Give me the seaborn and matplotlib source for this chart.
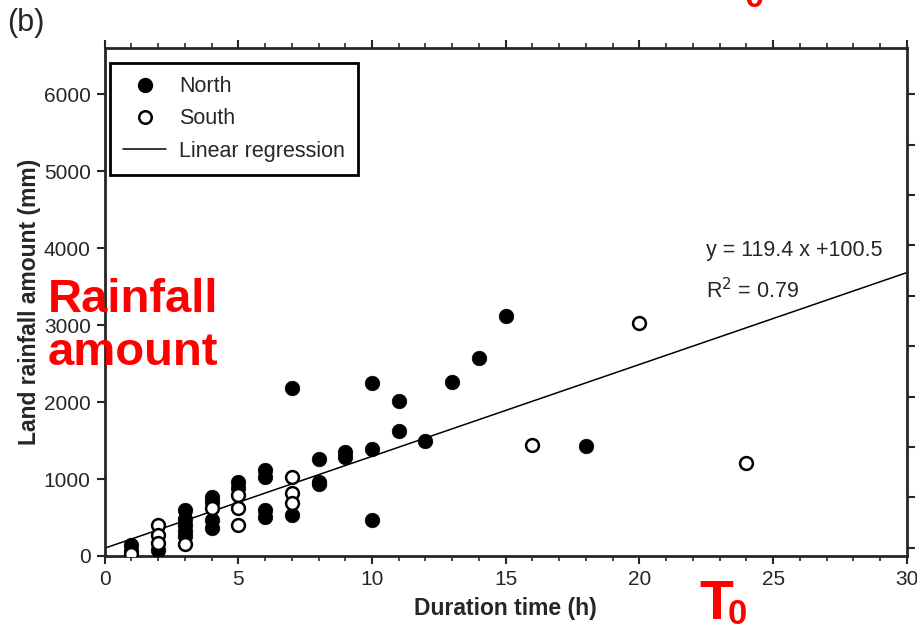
import matplotlib
matplotlib.use("Agg")
import matplotlib.pyplot as plt
import seaborn as sns
import numpy as np
import pandas as pd
from matplotlib.ticker import MultipleLocator, NullLocator, FuncFormatter

# duration (h) and land rainfall amount (mm)
north_x = [1, 1, 2, 3, 3, 3, 3, 3, 4, 4, 4, 4, 5, 5, 6, 6, 6, 6, 7, 7,
           8, 8, 8, 9, 9, 10, 10, 10, 11, 11, 12, 13, 14, 15, 18]
north_y = [140, 70, 80, 600, 480, 400, 330, 260, 770, 705, 468, 364, 965, 880,
           1117, 1030, 597, 511, 2186, 532, 1256, 965, 930, 1355, 1290,
           2242, 1385, 468, 2013, 1627, 1498, 2255, 2578, 3120, 1429]
south_x = [1, 2, 2, 2, 3, 4, 5, 5, 5, 7, 7, 7, 16, 20, 24]
south_y = [30, 400, 270, 170, 150, 623, 790, 623, 403, 1030, 818, 688,
           1442, 3022, 1204]

slope = 119.4
intercept = 100.5
r2 = 0.79

sns.set_style("ticks")
plt.rcParams['font.family'] = ['Liberation Sans', 'DejaVu Sans']

north = pd.DataFrame({'x': north_x, 'y': north_y})
south = pd.DataFrame({'x': south_x, 'y': south_y})
line_x = np.array([0, 30])
reg = pd.DataFrame({'x': line_x, 'y': slope * line_x + intercept})

fig = plt.figure(figsize=(9.17, 6.24), dpi=100)
pos = [0.114, 0.109, 0.875, 0.814]

# overlay axes that only carries the unlabelled right-hand tick marks
rax = fig.add_axes(pos, frameon=False)
rax.set_ylim(0, 6600)
rax.xaxis.set_major_locator(NullLocator())
rax.yaxis.tick_right()
rax.yaxis.set_major_locator(MultipleLocator(655, offset=6000 % 655))
rax.tick_params(axis='y', direction='out', length=6, width=1.5, labelright=False)
rax.tick_params(axis='x', bottom=False, labelbottom=False)

ax = fig.add_axes(pos)
ax.patch.set_alpha(0)

sns.lineplot(data=reg, x='x', y='y', color='black', linewidth=1.1, ax=ax, zorder=2)
sns.scatterplot(data=north, x='x', y='y', color='black', edgecolor='black',
                s=110, linewidth=0.5, ax=ax, zorder=3)
sns.scatterplot(data=south, x='x', y='y', color='white', edgecolor='black',
                s=85, linewidth=1.8, ax=ax, zorder=4)

ax.set_xlim(0, 30)
ax.set_ylim(0, 6600)
for sp in ax.spines.values():
    sp.set_linewidth(2)
    sp.set_visible(True)

# a tick every hour, labelled every 5 h
ax.xaxis.set_major_locator(MultipleLocator(1))
ax.xaxis.set_major_formatter(FuncFormatter(lambda v, p: '%d' % v if round(v) % 5 == 0 else ''))
ax.yaxis.set_major_locator(MultipleLocator(1000))
ax.tick_params(axis='both', which='major', direction='out', length=6, width=1.5,
               labelsize=15, pad=4)
ax.tick_params(axis='x', top=True, bottom=True)
ax.tick_params(axis='y', left=True, right=False)

ax.set_xlabel('Duration time (h)', fontsize=16.5, fontweight='bold', labelpad=6)
ax.set_ylabel('Land rainfall amount (mm)', fontsize=16.5, fontweight='bold', labelpad=2)

ax.text(22.5, 3970, 'y = 119.4 x +100.5', fontsize=15.5, va='center')
ax.text(22.5, 3450, r'R$^2$ = %.2f' % r2, fontsize=15.5, va='center')

handles = [
    plt.Line2D([], [], marker='o', color='black', linestyle='none', markersize=10),
    plt.Line2D([], [], marker='o', markerfacecolor='white', markeredgecolor='black',
               markeredgewidth=1.8, linestyle='none', markersize=9),
    plt.Line2D([], [], color='black', linewidth=1.1),
]
leg = ax.legend(handles, ['North', 'South', 'Linear regression'], loc='upper left',
                fontsize=15.5, frameon=True, fancybox=False, framealpha=1,
                edgecolor='black', borderpad=0.6, handlelength=2.0,
                handletextpad=0.6, labelspacing=0.52, borderaxespad=0,
                bbox_to_anchor=(0.007, 0.97))
leg.get_frame().set_linewidth(2)

fig.text(0.008, 0.963, '(b)', fontsize=22, va='center')
fig.text(0.052, 0.477, 'Rainfall\namount', color='red', fontsize=34,
         fontweight='bold', va='center', linespacing=1.25)
fig.text(0.763, 0.008, 'T', color='red', fontsize=40, fontweight='bold', va='baseline')
fig.text(0.793, -0.012, '0', color='red', fontsize=25, fontweight='bold', va='bottom')
fig.text(0.812, 0.978, '0', color='red', fontsize=25, fontweight='bold', va='bottom')

# shorten the in-between hour ticks
fig.canvas.draw()
for loc, tick in zip(ax.get_xticks(), ax.xaxis.get_major_ticks()):
    if round(loc) % 5 != 0:
        tick.tick1line.set_markersize(3.5)
        tick.tick2line.set_markersize(3.5)
        tick.tick1line.set_markeredgewidth(1.2)
        tick.tick2line.set_markeredgewidth(1.2)

fig.savefig('out.png', dpi=100)
